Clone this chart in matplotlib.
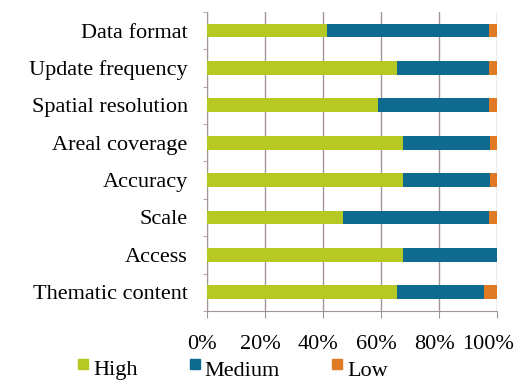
import matplotlib.pyplot as plt
import matplotlib.patches as mpatches
import matplotlib.transforms as mtransforms
import numpy as np

# data (percent of responses)
categories = ['Data format', 'Update frequency', 'Spatial resolution', 'Areal coverage',
              'Accuracy', 'Scale', 'Access', 'Thematic content']
high = [41.4, 65.3, 59.0, 67.4, 67.4, 46.8, 67.4, 65.3]
medium = [55.9, 32.0, 38.3, 30.2, 30.2, 50.5, 32.6, 30.3]
low = [2.7, 2.7, 2.7, 2.4, 2.4, 2.7, 0.0, 4.4]
series = ['High', 'Medium', 'Low']
xticks = [0, 20, 40, 60, 80, 100]

c_high = '#B5C823'
c_med = '#0E6A8E'
c_low = '#E17A24'
grid_c = '#A39595'
fs = 16

plt.rcParams['font.family'] = ['Liberation Serif', 'DejaVu Serif']

fig = plt.figure(figsize=(5.19, 3.82), dpi=100)
ax = fig.add_axes([0.399, 0.186, 0.559, 0.783])

y = np.arange(len(categories))
h = np.array(high)
m = np.array(medium)
l = np.array(low)
ax.barh(y, h, height=0.37, color=c_high, zorder=3)
ax.barh(y, m, left=h, height=0.37, color=c_med, zorder=3)
ax.barh(y, l, left=h + m, height=0.37, color=c_low, zorder=3)

ax.set_xlim(0, 100)
ax.set_ylim(len(categories) - 0.5, -0.5)
ax.set_xticks(xticks)
ax.set_xticklabels([f'{v}%' for v in xticks], fontsize=fs)
ax.set_yticks(y)
ax.set_yticklabels(categories, fontsize=fs)
ax.set_yticks(np.arange(len(categories) + 1) - 0.5, minor=True)
ax.tick_params(axis='y', which='major', length=0, pad=14)
ax.tick_params(axis='y', which='minor', length=3, color=grid_c, direction='out')
ax.tick_params(axis='x', length=5, color=grid_c, direction='out', pad=12)

# tick labels sit a little left of their gridlines, as in the source
for i, lab in enumerate(ax.get_xticklabels()):
    dx = -0.09 if i == len(xticks) - 1 else -0.05
    lab.set_transform(lab.get_transform() +
                      mtransforms.ScaledTranslation(dx, 0, fig.dpi_scale_trans))

ax.grid(axis='x', color=grid_c, linewidth=1, zorder=0)
for s in ['top', 'right']:
    ax.spines[s].set_visible(False)
ax.spines['left'].set_color(grid_c)
ax.spines['bottom'].set_color(grid_c)

# legend drawn by hand: small raised squares before each label
W, H = 519, 382
leg_pos = [(78, 93), (190, 204), (332, 347)]
for name, col, (mx, tx) in zip(series, [c_high, c_med, c_low], leg_pos):
    fig.patches.append(mpatches.Rectangle((mx / W, 1 - 369 / H), 10 / W, 10 / H,
                                          color=col, transform=fig.transFigure, figure=fig))
    fig.text(tx / W, 1 - 371 / H, name, fontsize=fs, va='center', ha='left')

fig.savefig('out.png', dpi=100)
